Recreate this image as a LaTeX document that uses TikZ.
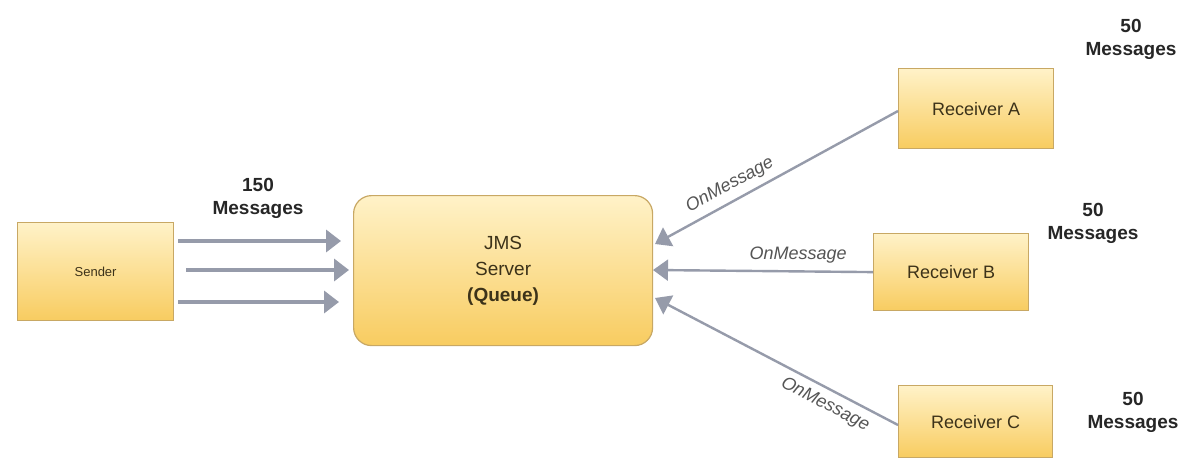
\documentclass[tikz,border=0pt]{standalone}
\usepackage{fontspec}
\setmainfont{Liberation Sans}
\usetikzlibrary{arrows.meta}
\definecolor{boxtop}{RGB}{255,242,200}
\definecolor{boxbot}{RGB}{248,204,96}
\definecolor{boxline}{RGB}{200,168,100}
\definecolor{arrowgray}{RGB}{150,155,170}
\definecolor{labelgray}{RGB}{85,85,85}
\definecolor{txt}{RGB}{60,50,25}
\tikzset{
  unit/.style={draw=boxline, line width=1.2pt, top color=boxtop, bottom color=boxbot,
    text=txt, inner sep=0pt, anchor=north west},
  flow/.style={draw=arrowgray, line width=3.6pt, -{Triangle[length=15pt,width=22pt]}},
  callback/.style={draw=arrowgray, line width=2.4pt, -{Triangle[length=15pt,width=21pt]}},
  count/.style={font=\fontsize{19}{23}\selectfont\bfseries, align=center, text=black!85},
  cblabel/.style={font=\fontsize{18}{21}\selectfont\itshape, text=labelgray}
}
\begin{document}
\begin{tikzpicture}[x=1pt,y=-1pt]
\useasboundingbox (0,0) rectangle (1180,461);
\fill[white] (0,0) rectangle (1180,461);

% boxes
\node[unit, minimum width=156pt, minimum height=98pt,
      font=\fontsize{13}{15}\selectfont] (sender) at (17,222) {Sender};
\node[unit, rounded corners=18pt, minimum width=299pt, minimum height=150pt,
      font=\fontsize{19}{26}\selectfont, align=center] (jms) at (353,195)
      {JMS\\Server\\\textbf{(Queue)}};
\node[unit, minimum width=155pt, minimum height=80pt,
      font=\fontsize{18}{21}\selectfont] (ra) at (898,68) {Receiver A};
\node[unit, minimum width=155pt, minimum height=77pt,
      font=\fontsize{18}{21}\selectfont] (rb) at (873,233) {Receiver B};
\node[unit, minimum width=154pt, minimum height=72pt,
      font=\fontsize{18}{21}\selectfont] (rc) at (898,385) {Receiver C};

% message counts
\node[count] (cs) at (258,198) {150\\Messages};
\node[count] (ca) at (1131,39) {50\\Messages};
\node[count] (cb) at (1093,223) {50\\Messages};
\node[count] (cc) at (1133,412) {50\\Messages};

% sender to queue
\coordinate (s1) at (178,241);
\coordinate (s2) at (186,270);
\coordinate (s3) at (178,302);
\coordinate (t1) at (341,241);
\coordinate (t2) at (349,270);
\coordinate (t3) at (339,302);
\draw[flow] (s1) -- (t1);
\draw[flow] (s2) -- (t2);
\draw[flow] (s3) -- (t3);

% receivers to queue
\coordinate (qa) at (655,244);
\coordinate (qb) at (653,270);
\coordinate (qc) at (655,298);
\coordinate (ea) at (898,111);
\coordinate (ec) at (898,425);
\draw[callback] (ea) -- (qa)
  node[cblabel, pos=0.66, above, sloped, yshift=3pt] (la) {OnMessage};
\draw[callback] (rb.west) -- (qb)
  node[cblabel, pos=0.34, above, yshift=4pt] (lb) {OnMessage};
\draw[callback] (ec) -- (qc)
  node[cblabel, pos=0.27, below, sloped, yshift=-3pt] (lc) {OnMessage};
\end{tikzpicture}
\end{document}
